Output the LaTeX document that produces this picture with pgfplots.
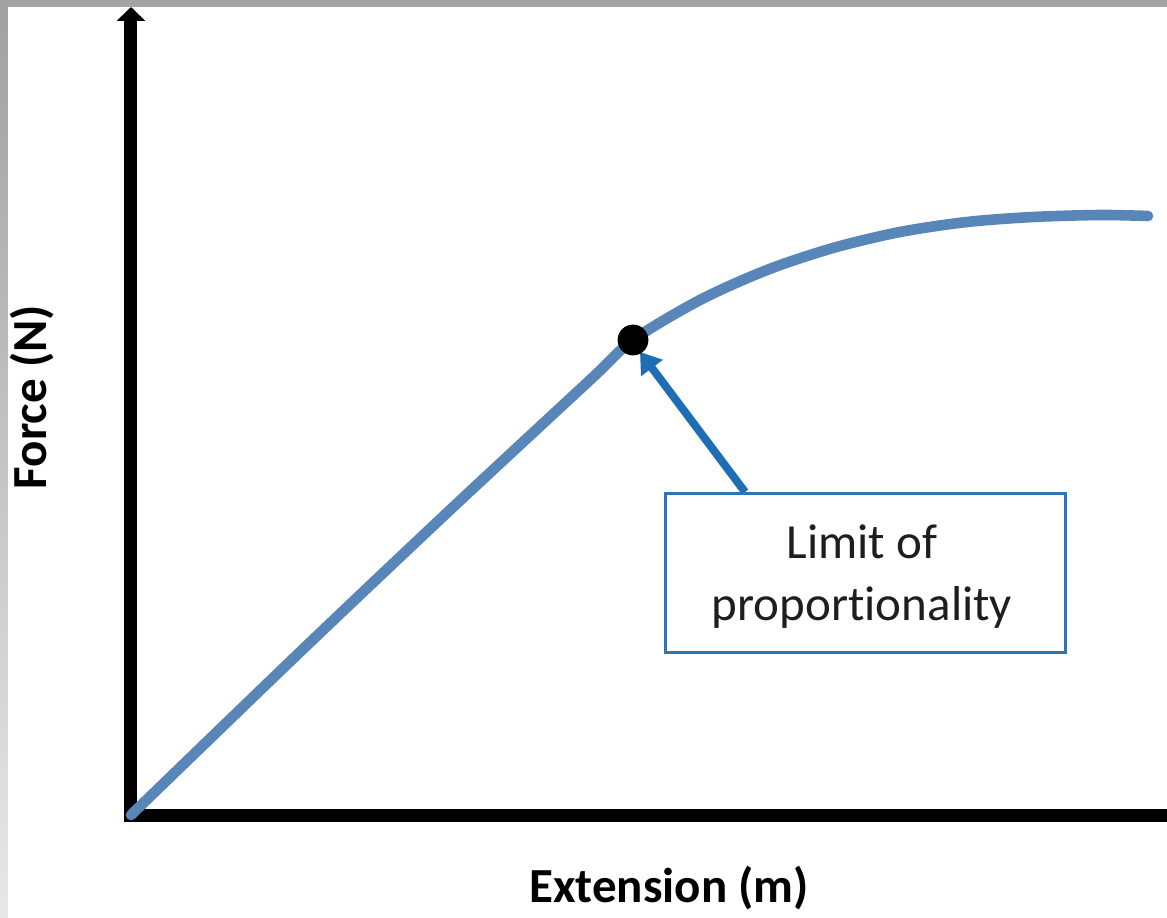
\documentclass[border=0pt]{standalone}
\usepackage{pgfplots}
\pgfplotsset{compat=1.18}
\usepackage{fontspec}
\setmainfont[Ligatures=NoCommon]{Carlito}
\usetikzlibrary{arrows.meta}
\definecolor{curveblue}{RGB}{88,134,184}
\definecolor{arrowblue}{RGB}{31,110,181}
\definecolor{boxblue}{RGB}{46,117,182}
\definecolor{graytop}{RGB}{160,160,160}
\definecolor{graybot}{RGB}{232,232,232}
\definecolor{graystrip}{RGB}{163,163,163}
\definecolor{textgray}{RGB}{30,30,30}
\begin{document}
\begin{tikzpicture}
\fill[white] (-65.5pt,-51pt) rectangle (518pt,407.5pt);
\useasboundingbox (-65.5pt,-51pt) rectangle (518pt,407.5pt);
\shade[top color=graytop, bottom color=graybot] (-65.5pt,-51pt) rectangle (-61.5pt,407.5pt);
\fill[graystrip] (-65.5pt,404pt) rectangle (518pt,407.5pt);
\begin{axis}[
  at={(0,0)}, anchor=south west,
  scale only axis,
  width=518pt, height=404pt,
  xmin=0, xmax=1036, ymin=0, ymax=808,
  axis x line=bottom, axis y line=left,
  xtick=\empty, ytick=\empty,
  axis line style={line width=6.5pt, black},
  x axis line style={-, line cap=rect},
  y axis line style={-{Triangle[width=14pt,length=7pt]}},
  clip=false,
]
\addplot[curveblue, line width=5.3pt, line cap=round, smooth, tension=0.5] coordinates {
(0,0) (169,163) (319,305) (459,435) (502,475) (569,515) (636,545) (702,567) (769,583) (836,593) (902,598) (969,600) (1017,599)
};
\addplot[only marks, mark=*, mark size=7.5pt, black] coordinates {(502,475)};
\draw[arrowblue, line width=4pt, -{Triangle[width=13pt,length=10pt]}] (axis cs:614,323) -- (axis cs:509,463);
\draw[boxblue, line width=1.5pt, fill=white] (axis cs:534,163) rectangle (axis cs:934,322);
\node[anchor=base, font=\fontsize{24.5pt}{28pt}\selectfont, text=textgray] at (axis cs:731,257) {Limit of};
\node[anchor=base, font=\fontsize{24.5pt}{28pt}\selectfont, text=textgray] at (axis cs:731,195) {proportionality};
\end{axis}
\node[anchor=base, font=\fontsize{24.5pt}{28pt}\selectfont\bfseries] at (269pt,-43.5pt) {Extension (m)};
\node[anchor=base, rotate=90, font=\fontsize{24.5pt}{28pt}\selectfont\bfseries] at (-42pt,209pt) {Force (N)};
\end{tikzpicture}
\end{document}
